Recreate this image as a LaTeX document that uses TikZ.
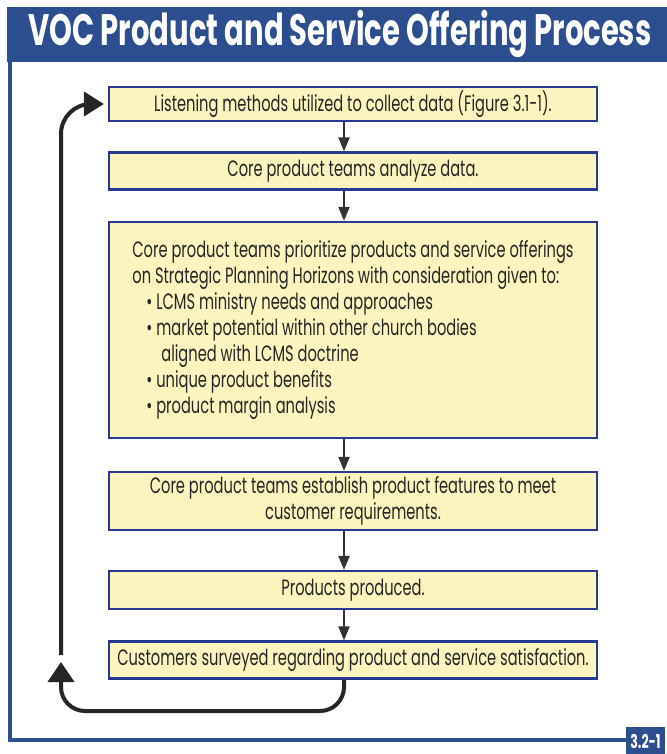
\documentclass[tikz,border=0pt]{standalone}
\usepackage{fontspec}
\setmainfont{Poppins}[FakeStretch=0.66]
\usetikzlibrary{arrows.meta}
\definecolor{vocblue}{HTML}{2C4D8E}
\definecolor{boxline}{HTML}{2A3A94}
\definecolor{boxfill}{HTML}{FBF4BF}
\begin{document}
\begin{tikzpicture}[x=0.5pt,y=-0.5pt,
    box/.style={draw=boxline, line width=1.1pt, fill=boxfill, minimum width=244pt,
      inner sep=2pt, font=\fontsize{11.1}{13}\selectfont, text=black!85},
    flowarrow/.style={line width=1pt, black!80, -{Triangle[width=5.5pt,length=7pt]}},
    looparrow/.style={line width=2pt, black!85}]
			\useasboundingbox (0,0) rectangle (666,754);
			\fill[white] (0,0) rectangle (666,754);
			\fill[vocblue] (7,7) rectangle (670,62);
			\node[text=white, font=\fontsize{22}{26}\selectfont\bfseries] (title) at (340,34) {VOC Product and Service Offering Process};
			\draw[vocblue, line width=2pt] (10,62) -- (10,740) -- (628,740);
			\node[fill=vocblue, text=white, anchor=north west, minimum height=14pt, inner sep=2pt, font=\fontsize{9.5}{11}\selectfont\bfseries] (fignum) at (626,727) {3.2-1};

			\node[box, minimum height=16pt] (listen) at (353,104) {Listening methods utilized to collect data (Figure 3.1-1).};
			\node[box, minimum height=18.5pt] (analyze) at (353,171) {Core product teams analyze data.};
			\node[box, minimum height=108pt, align=left] (prioritize) at (353,330) {Core product teams prioritize products and service offerings\\
				on Strategic Planning Horizons with consideration given to:\\
				\hspace*{7pt}• LCMS ministry needs and approaches\\
				\hspace*{7pt}• market potential within other church bodies\\
				\hspace*{14.5pt}aligned with LCMS doctrine\\
				\hspace*{7pt}• unique product benefits\\
				\hspace*{7pt}• product margin analysis};
			\node[box, minimum height=29pt, align=center] (features) at (353,501) {Core product teams establish product features to meet\\ customer requirements.};
			\node[box, minimum height=19pt] (produced) at (353,590) {Products produced.};
			\node[box, minimum height=18.5pt] (survey) at (353,660) {Customers surveyed regarding product and service satisfaction.};

			\draw[flowarrow] ([xshift=-4.5pt]listen.south) -- ([xshift=-4.5pt]analyze.north);
			\draw[flowarrow] ([xshift=-4.5pt]analyze.south) -- ([xshift=-4.5pt]prioritize.north);
			\draw[flowarrow] ([xshift=-4.5pt]prioritize.south) -- ([xshift=-4.5pt]features.north);
			\draw[flowarrow] ([xshift=-4.5pt]features.south) -- ([xshift=-4.5pt]produced.north);
			\draw[flowarrow] ([xshift=-4.5pt]produced.south) -- ([xshift=-4.5pt]survey.north);

			\coordinate (loopmid) at (61,662);
			\coordinate (loopstart) at (61,655);
			\draw[looparrow, rounded corners=12pt, -{Triangle[width=13pt,length=10pt]}] ([xshift=-4.5pt]survey.south) |- (61,711) -- (loopmid);
			\draw[looparrow, rounded corners=15pt, -{Triangle[width=12pt,length=10pt]}] (loopstart) |- ([xshift=-2pt]listen.west);
\end{tikzpicture}
\end{document}
